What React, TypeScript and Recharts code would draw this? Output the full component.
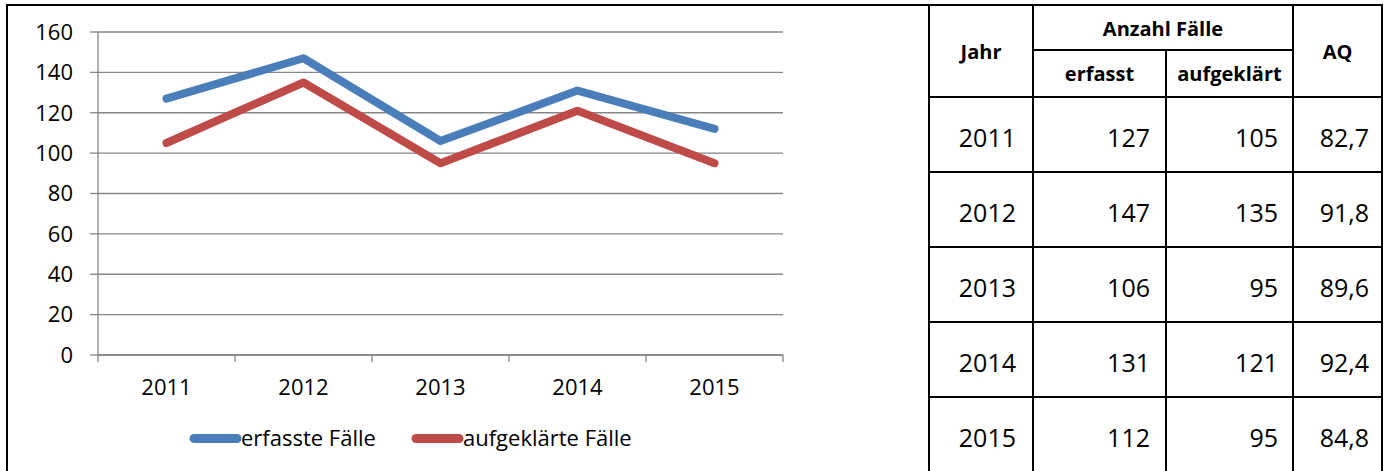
import React from 'react';
import { LineChart, Line, XAxis, YAxis, CartesianGrid } from 'recharts';

const years = ['2011', '2012', '2013', '2014', '2015'];
const erfassteFaelle = [127, 147, 106, 131, 112];
const aufgeklaerteFaelle = [105, 135, 95, 121, 95];
const aufklaerungsquote = ['82,7', '91,8', '89,6', '92,4', '84,8'];
const yTicks = [0, 20, 40, 60, 80, 100, 120, 140, 160];
const seriesKeys = ['erfasst', 'aufgeklaert'];
const seriesNames = ['erfasste Fälle', 'aufgeklärte Fälle'];
const seriesColors = ['#4a7ebb', '#be4b48'];
const headerJahr = 'Jahr';
const headerGroup = 'Anzahl Fälle';
const headerSub = ['erfasst', 'aufgeklärt'];
const headerAQ = 'AQ';

const data = years.map((year, i) => ({
  year,
  erfasst: erfassteFaelle[i],
  aufgeklaert: aufgeklaerteFaelle[i],
}));

const GRID = '#868686';
const FONT = '"Open Sans", "Noto Sans", sans-serif';
const PLOT_W = 685;

const XTick = (props: any) => {
  const { x, y, payload, index, visibleTicksCount } = props;
  const n = visibleTicksCount || years.length;
  const half = PLOT_W / n / 2;
  return (
    <g>
      <line x1={x - half} x2={x - half} y1={y} y2={y + 7} stroke={GRID} strokeWidth={1.3} />
      {index === n - 1 && (
        <line x1={x + half} x2={x + half} y1={y} y2={y + 7} stroke={GRID} strokeWidth={1.3} />
      )}
      <text x={x} y={y + 40} textAnchor="middle" fontFamily={FONT} fontSize={22} fill="#000">
        {payload.value}
      </text>
    </g>
  );
};

const cols = [929, 1033, 1166, 1293, 1382];
const headTop = 5;
const headMid = 50;
const bodyTop = 97;
const rowH = 75;

export default function App() {
  const rowYs = years.map((_, i) => bodyTop + i * rowH);
  const tableBottom = bodyTop + years.length * rowH;
  const rightEdges = [1016, 1150, 1278, 1369];
  return (
    <div
      style={{
        position: 'absolute',
        left: 0,
        top: 0,
        width: 1389,
        height: 471,
        background: '#fff',
        overflow: 'hidden',
      }}
    >
      <div style={{ position: 'absolute', left: 0, top: 0 }}>
        <LineChart width={808} height={471} data={data} margin={{ top: 32, right: 25, bottom: 0, left: 0 }}>
          <CartesianGrid vertical={false} stroke={GRID} strokeWidth={1.3} />
          <XAxis
            dataKey="year"
            scale="band"
            height={116}
            tickSize={0}
            tickMargin={0}
            tickLine={false}
            axisLine={{ stroke: GRID, strokeWidth: 1.3 }}
            tick={<XTick />}
            interval={0}
          />
          <YAxis
            width={98}
            domain={[0, 160]}
            ticks={yTicks}
            interval={0}
            tickSize={8}
            tickMargin={17}
            axisLine={{ stroke: GRID, strokeWidth: 1.3 }}
            tickLine={{ stroke: GRID, strokeWidth: 1.3 }}
            tick={{ fontFamily: FONT, fontSize: 22, fill: '#000' }}
          />
          {seriesKeys.map((k, i) => (
            <Line
              key={k}
              type="linear"
              dataKey={k}
              name={seriesNames[i]}
              stroke={seriesColors[i]}
              strokeWidth={8}
              strokeLinecap="round"
              strokeLinejoin="round"
              dot={false}
              activeDot={false}
              isAnimationActive={false}
            />
          ))}
        </LineChart>
      </div>
      <svg width={1389} height={471} style={{ position: 'absolute', left: 0, top: 0 }}>
        {seriesNames.map((name, i) => {
          const x0 = [190, 412][i];
          return (
            <g key={name}>
              <line x1={x0 + 4} x2={x0 + 47} y1={438.5} y2={438.5} stroke={seriesColors[i]} strokeWidth={9} strokeLinecap="round" />
              <text x={x0 + 51} y={446} fontFamily={FONT} fontSize={22} fill="#000">
                {name}
              </text>
            </g>
          );
        })}
        <line x1={7} x2={7} y1={4} y2={471} stroke="#000" strokeWidth={2} />
        <line x1={6} x2={1383} y1={5} y2={5} stroke="#000" strokeWidth={2} />
        <line x1={cols[0]} x2={cols[0]} y1={headTop} y2={tableBottom} stroke="#000" strokeWidth={2} />
        <line x1={cols[1]} x2={cols[1]} y1={headTop} y2={tableBottom} stroke="#000" strokeWidth={2} />
        <line x1={cols[2]} x2={cols[2]} y1={headMid} y2={tableBottom} stroke="#000" strokeWidth={2} />
        <line x1={cols[3]} x2={cols[3]} y1={headTop} y2={tableBottom} stroke="#000" strokeWidth={2} />
        <line x1={cols[4]} x2={cols[4]} y1={headTop} y2={tableBottom} stroke="#000" strokeWidth={2} />
        <line x1={cols[1]} x2={cols[3]} y1={headMid} y2={headMid} stroke="#000" strokeWidth={2} />
        {rowYs.map((y) => (
          <line key={y} x1={cols[0] - 1} x2={cols[4] + 1} y1={y} y2={y} stroke="#000" strokeWidth={2} />
        ))}
        <line x1={cols[0] - 1} x2={cols[4] + 1} y1={tableBottom} y2={tableBottom} stroke="#000" strokeWidth={2} />
        <text x={(cols[0] + cols[1]) / 2} y={51} dominantBaseline="central" textAnchor="middle" fontFamily={FONT} fontWeight={700} fontSize={20}>
          {headerJahr}
        </text>
        <text x={(cols[1] + cols[3]) / 2} y={28} dominantBaseline="central" textAnchor="middle" fontFamily={FONT} fontWeight={700} fontSize={20}>
          {headerGroup}
        </text>
        {headerSub.map((h, i) => (
          <text key={h} x={(cols[1 + i] + cols[2 + i]) / 2} y={73} dominantBaseline="central" textAnchor="middle" fontFamily={FONT} fontWeight={700} fontSize={20}>
            {h}
          </text>
        ))}
        <text x={(cols[3] + cols[4]) / 2} y={51} dominantBaseline="central" textAnchor="middle" fontFamily={FONT} fontWeight={700} fontSize={20}>
          {headerAQ}
        </text>
        {years.map((yr, i) => {
          const cy = rowYs[i] + rowH / 2 + 2;
          const vals = [yr, String(erfassteFaelle[i]), String(aufgeklaerteFaelle[i]), aufklaerungsquote[i]];
          return (
            <g key={yr}>
              {vals.map((v, j) => (
                <text key={j} x={rightEdges[j]} y={cy} dominantBaseline="central" textAnchor="end" fontFamily={FONT} fontSize={25} fill="#000">
                  {v}
                </text>
              ))}
            </g>
          );
        })}
      </svg>
    </div>
  );
}
